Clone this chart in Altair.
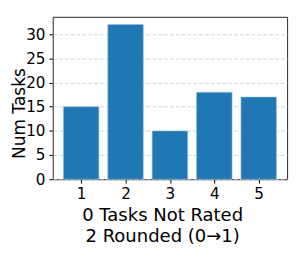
import altair as alt
import pandas as pd

categories = [1, 2, 3, 4, 5]
num_tasks = [15, 32, 10, 18, 17]
y_ticks = [0, 5, 10, 15, 20, 25, 30]
x_title = ["0 Tasks Not Rated", "2 Rounded (0\u21921)"]
y_title = "Num Tasks"

df = pd.DataFrame({"cat": categories, "n": num_tasks})

FONT = "DejaVu Sans"

chart = (
    alt.Chart(df)
    .transform_calculate(x0="datum.cat - 0.4", x1="datum.cat + 0.4")
    .mark_bar(color="#1f77b4", stroke="#9cc3e0", strokeWidth=0.6)
    .encode(
        x=alt.X(
            "x0:Q",
            scale=alt.Scale(domain=[0.36, 5.64], nice=False, zero=False),
            axis=alt.Axis(
                values=categories,
                format="d",
                grid=False,
                domain=False,
                tickSize=4,
                tickColor="#000",
                labelFontSize=15.6,
                labelFont=FONT,
                labelColor="#000",
                labelPadding=4,
                title=x_title,
                titleFont=FONT,
                titleFontSize=18.5,
                titleFontWeight="normal",
                titleColor="#000",
                titleLineHeight=22,
                titleBaseline="alphabetic",
                titleAlign="center",
                titleX=112.5,
                titleY=42,
            ),
        ),
        x2="x1:Q",
        y=alt.Y(
            "n:Q",
            scale=alt.Scale(domain=[0, 33.6], nice=False),
            axis=alt.Axis(
                values=y_ticks,
                grid=True,
                gridDash=[4, 2],
                gridColor="#cccccc",
                gridWidth=0.8,
                domain=False,
                tickSize=4,
                tickColor="#000",
                labelFontSize=15.6,
                labelFont=FONT,
                labelColor="#000",
                labelPadding=4,
                title=y_title,
                titleFont=FONT,
                titleFontSize=17.5,
                titleFontWeight="normal",
                titleColor="#000",
                titleAngle=270,
                titleBaseline="alphabetic",
                titleAlign="center",
                titleX=-29.2,
                titleY=99,
            ),
        ),
        y2=alt.datum(0),
    )
    .properties(
        width=241,
        height=167,
        autosize=alt.AutoSizeParams(type="none"),
        padding={"left": 46, "top": 5.5, "right": 4, "bottom": 80},
    )
    .configure_view(stroke="#222", strokeWidth=1)
)

chart.save("out.html", embed_options={"renderer": "svg", "actions": False})
